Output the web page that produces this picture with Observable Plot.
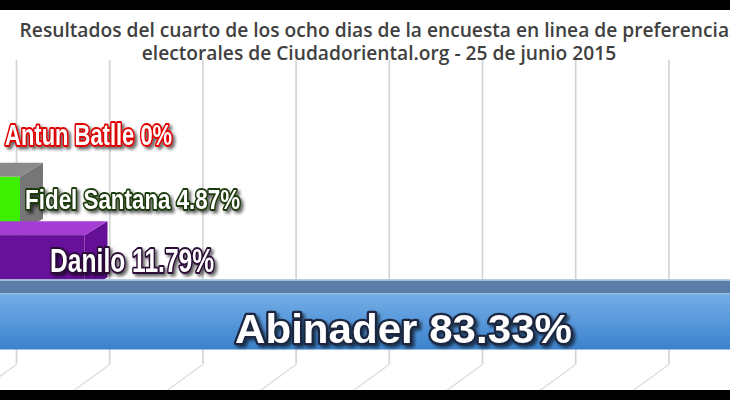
<!DOCTYPE html>
<html><head><meta charset="utf-8">
<script src="https://cdn.jsdelivr.net/npm/d3@7"></script>
<script src="https://cdn.jsdelivr.net/npm/@observablehq/plot@0.6"></script>
<style>
html,body{margin:0;padding:0;background:#000;width:730px;height:400px;overflow:hidden;}
#frame{position:absolute;left:0;top:10px;width:730px;height:380px;background:#fff;overflow:hidden;}
#title{position:absolute;left:0;top:0;width:758px;height:50px;text-align:center;font-family:"Open Sans",sans-serif;font-weight:600;font-size:19.2px;line-height:23px;color:#404040;white-space:nowrap;padding-top:8px;box-sizing:border-box;}
#chart{position:absolute;left:0;top:50px;width:730px;height:330px;}
#chart svg{overflow:hidden;display:block;}
</style></head>
<body>
<div id="frame">
  <div id="title">Resultados del cuarto de los ocho dias de la encuesta en linea de preferencias<br>electorales de Ciudadoriental.org - 25 de junio 2015</div>
  <div id="chart"></div>
</div>
<script>
// ---- data ----
const candidates = ["Antun Batlle", "Fidel Santana", "Danilo", "Abinader"];
const shares = [0, 4.87, 11.79, 83.33];
const valueLabels = ["0%", "4.87%", "11.79%", "83.33%"];
const gridTicks = [0, 10, 20, 30, 40, 50, 60, 70];

// ---- styles ----
const frontFill = ["#5e5e5e", "#3cf000", "#67109a", "url(#gBlue)"];
const topFill   = ["#6a6a6a", "#8a8a8a", "#a43ed2", "#5a7ea8"];
const sideFill  = ["#555555", "#767676", "#650f97", "#4f77a3"];
const labelStroke = ["#e00000", "#1d3a0b", "#2a0a35", "#1a2840"];
const labelSize = [29.5, 28.5, 32.5, 41];
const labelFont = "Liberation Sans, Arial, sans-serif";
const labelAnchor = ["start", "start", "start", "middle"];
const labelDx = [30, 50, 75, 428.4];
const labelDy = [-11.5, -5, -2, 8];
const labelLength = [167, 215, 164, 337];

// ---- geometry (pixel layout of the 3D look) ----
const X0 = -25.4, K = 9.32;       // x(0) and px per %
const Y0 = 86.5, STEP = 58.33;    // first category center, band step
const H = 28 / STEP;               // half bar height (index units)
const DX = 23 / K, DY = -14 / STEP; // bar depth
const WALL_DX = 41.4;              // back wall offset (px)

const rows = candidates.map((name, i) => ({
  i, name, value: shares[i], label: `${name} ${valueLabels[i]}`
}));

const marks = [];
// back wall gridlines
marks.push(Plot.ruleX(gridTicks, {x: d => d, dx: WALL_DX, stroke: "#d4d4d4", strokeWidth: 1.7}));
// floor lines
marks.push(Plot.link(gridTicks, {
  x1: d => d, x2: d => d - 40 / K,
  y1: () => (304 - Y0) / STEP, y2: () => (333 - Y0) / STEP,
  dx: WALL_DX, stroke: "#dedede", strokeWidth: 1.4
}));

rows.forEach(r => {
  const i = r.i, v = r.value;
  const side = [{x: v, y1: i - H, y2: i + H}, {x: v + DX, y1: i - H + DY, y2: i + H + DY}];
  const top = [{y: i - H, x1: 0, x2: v}, {y: i - H + DY, x1: DX, x2: v + DX}];
  marks.push(Plot.areaY(side, {x: "x", y1: "y1", y2: "y2", fill: sideFill[i]}));
  marks.push(Plot.areaX(top, {y: "y", x1: "x1", x2: "x2", fill: topFill[i]}));
  marks.push(Plot.rect([r], {x1: () => 0, x2: "value", y1: d => d.i - H, y2: d => d.i + H, fill: frontFill[i]}));
  if (i === 3) {
    marks.push(Plot.link([r], {x1: () => DX, x2: d => d.value + DX, y1: d => d.i - H + DY, y2: d => d.i - H + DY, stroke: "#b9d3ee", strokeWidth: 1.5}));
    marks.push(Plot.link([r], {x1: () => 0, x2: "value", y1: d => d.i - H, y2: d => d.i - H, stroke: "#9cc2ea", strokeWidth: 1.2}));
  }
});

rows.forEach(r => {
  const i = r.i;
  marks.push(Plot.text([r], {
    x: () => 0, y: "i", text: "label",
    textAnchor: labelAnchor[i], dx: labelDx[i], dy: labelDy[i],
    fontSize: labelSize[i], fontWeight: "bold", fontFamily: labelFont,
    fill: "white", stroke: labelStroke[i], strokeWidth: i === 3 ? 4.5 : 3.8, paintOrder: "stroke",
    strokeLinejoin: "round"
  }));
});

const chart = Plot.plot({
  width: 730, height: 330,
  marginTop: 0, marginBottom: 26, marginLeft: 0, marginRight: 0,
  x: {domain: [0, 100], range: [X0, X0 + 100 * K], axis: null},
  y: {domain: [0, 3], range: [Y0, Y0 + 3 * STEP], axis: null},
  style: {background: "transparent", overflow: "hidden"},
  marks
});

const svg = d3.select(chart.tagName.toLowerCase() === "svg" ? chart : chart.querySelector("svg"));
const defs = svg.insert("defs", ":first-child");
const g = defs.append("linearGradient").attr("id", "gBlue").attr("x1", 0).attr("x2", 0).attr("y1", 0).attr("y2", 1);
g.append("stop").attr("offset", "0%").attr("stop-color", "#74ade5");
g.append("stop").attr("offset", "55%").attr("stop-color", "#5596da");
g.append("stop").attr("offset", "100%").attr("stop-color", "#3b81cb");
const f = defs.append("filter").attr("id", "shadow").attr("x", "-10%").attr("y", "-30%").attr("width", "130%").attr("height", "170%");
f.append("feDropShadow").attr("dx", 2.5).attr("dy", 2.5).attr("stdDeviation", 1.6).attr("flood-color", "#000").attr("flood-opacity", 0.6);
svg.selectAll("g[aria-label='text']").attr("filter", "url(#shadow)")
  .each(function(_, k) {
    d3.select(this).selectAll("text")
      .attr("textLength", labelLength[k]).attr("lengthAdjust", "spacingAndGlyphs");
  });

document.getElementById("chart").appendChild(chart);
</script>
</body></html>
